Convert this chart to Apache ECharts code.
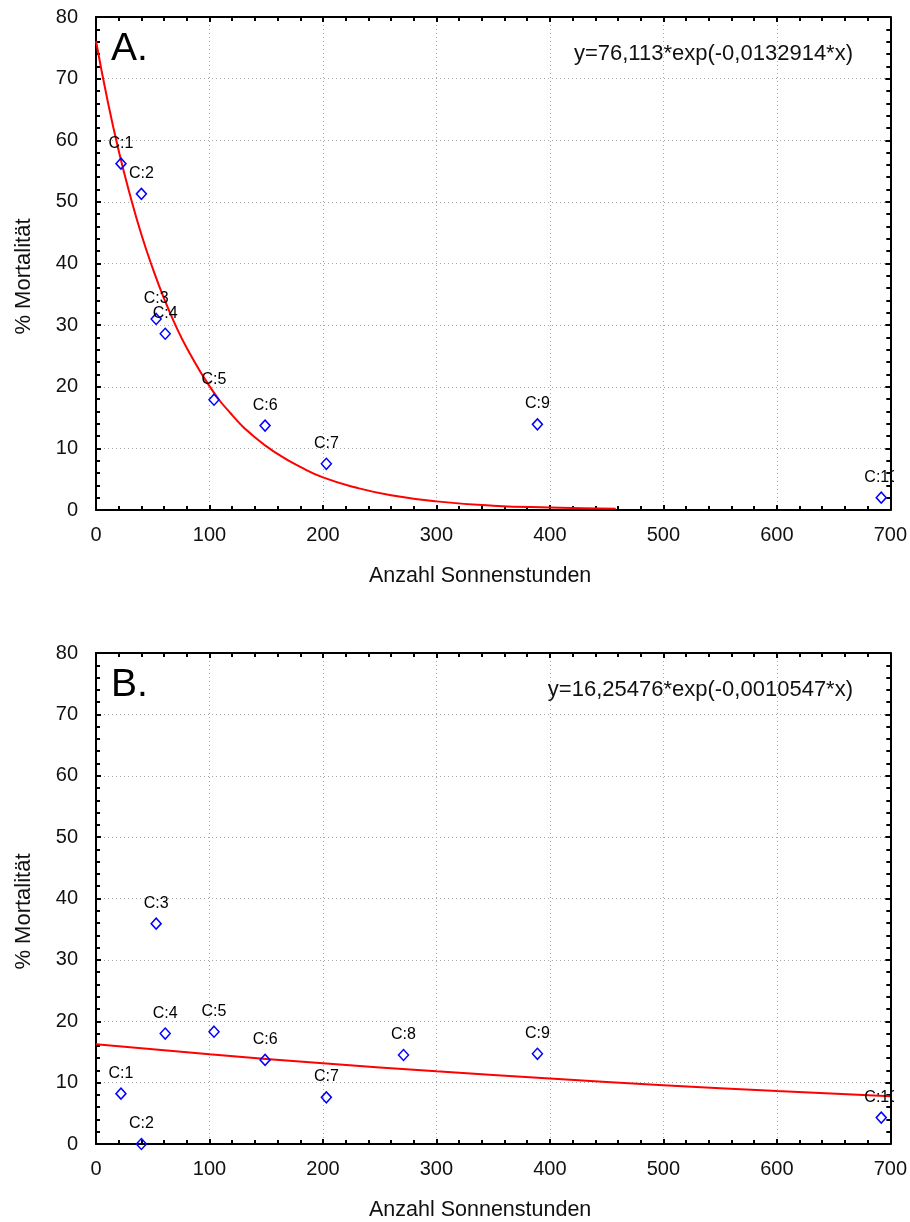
<!DOCTYPE html>
<html>
<head>
<meta charset="utf-8">
<script src="https://cdn.jsdelivr.net/npm/echarts@6/dist/echarts.min.js"></script>
<style>
html,body{margin:0;padding:0;background:#fff;}
#chart{width:910px;height:1222px;}
</style>
</head>
<body>
<div id="chart"></div>
<script>
// ---- data ----
const pointLabels = ['C:1','C:2','C:3','C:4','C:5','C:6','C:7','C:8','C:9','C:10'];
const sunHours = [22, 40, 53, 61, 104, 149, 203, 271, 389, 692];
const mortalityA = [56.2, 51.3, 31.0, 28.6, 17.9, 13.7, 7.5, null, 13.9, 2.0];
const mortalityB = [8.2, 0.0, 35.9, 18.0, 18.3, 13.7, 7.6, 14.5, 14.7, 4.3];
// fitted curves
const fitAx = [0, 10, 20, 30, 40, 50, 60, 70, 80, 100, 120, 140, 160, 180, 200, 230, 260, 300, 350, 400, 458];
const fitAy = [76.1, 66.6, 58.3, 51.1, 44.7, 39.2, 34.3, 30.0, 26.3, 20.1, 15.4, 11.8, 9.1, 7.0, 5.3, 3.6, 2.4, 1.4, 0.7, 0.4, 0.2];
const fitBx = [0, 100, 200, 300, 400, 500, 600, 700];
const fitBy = [16.25, 14.63, 13.16, 11.85, 10.66, 9.59, 8.63, 7.77];
const panelLetters = ['A.', 'B.'];
const equations = ['y=76,113*exp(-0,0132914*x)', 'y=16,25476*exp(-0,0010547*x)'];
const xTitle = 'Anzahl Sonnenstunden';
const yTitle = '% Mortalität';

const FONT = 'Liberation Sans, Arial, sans-serif';
const chart = echarts.init(document.getElementById('chart'));

function pts(xs, ys) {
  const out = [];
  xs.forEach((x, i) => { if (ys[i] != null) out.push({ value: [x, ys[i]], name: pointLabels[i] }); });
  return out;
}
function line(xs, ys) { return xs.map((x, i) => [x, ys[i]]); }

const grids = [
  { left: 96, right: 18, top: 17, height: 493 },
  { left: 96, right: 18, top: 653, height: 492 }
];

const axisLineStyle = { color: '#000', width: 2 };
function xAxes(gi) {
  const base = {
    type: 'value', gridIndex: gi, min: 0, max: 700, interval: 100,
    axisLine: { show: true, onZero: false, lineStyle: axisLineStyle },
    axisTick: { show: true, inside: true, length: 5, lineStyle: { color: '#000', width: 2 } },
    minorTick: { show: true, splitNumber: 5, length: 4, lineStyle: { color: '#000', width: 2 } }
  };
  return [
    Object.assign({}, base, {
      position: 'bottom',
      name: xTitle, nameLocation: 'middle', nameGap: 55,
      nameTextStyle: { fontFamily: FONT, fontSize: 21.5, color: '#111', padding: [0, 26, 0, 0] },
      axisLabel: { show: true, margin: 15, fontFamily: FONT, fontSize: 20, color: '#111' },
      splitLine: { show: true, lineStyle: { type: [1, 3], color: '#a8a8a8', width: 1 } }
    }),
    Object.assign({}, base, {
      position: 'top', axisLabel: { show: false }, splitLine: { show: false }
    })
  ];
}
function yAxes(gi) {
  const base = {
    type: 'value', gridIndex: gi, min: 0, max: 80, interval: 10,
    axisLine: { show: true, onZero: false, lineStyle: axisLineStyle },
    axisTick: { show: true, inside: true, length: 5, lineStyle: { color: '#000', width: 2 } },
    minorTick: { show: true, splitNumber: 5, length: 4, lineStyle: { color: '#000', width: 2 } }
  };
  return [
    Object.assign({}, base, {
      position: 'left',
      name: yTitle, nameLocation: 'middle', nameGap: 61, nameRotate: 90,
      nameTextStyle: { fontFamily: FONT, fontSize: 22, color: '#111', padding: [0, 26, 0, 0] },
      axisLabel: { show: true, margin: 18, fontFamily: FONT, fontSize: 20, color: '#111' },
      splitLine: { show: true, lineStyle: { type: [1, 3], color: '#a8a8a8', width: 1 } }
    }),
    Object.assign({}, base, {
      position: 'right', axisLabel: { show: false }, splitLine: { show: false }
    })
  ];
}

function scatter(gi, ys) {
  return {
    type: 'scatter', xAxisIndex: gi * 2, yAxisIndex: gi * 2,
    data: pts(sunHours, ys),
    symbol: 'diamond', symbolSize: [10, 11],
    itemStyle: { color: 'rgba(0,0,0,0)', borderColor: '#0000ff', borderWidth: 1.5, opacity: 1 },
    label: { show: true, position: 'top', distance: 6, formatter: '{b}',
             fontFamily: FONT, fontSize: 16, color: '#000', opacity: 1 },
    z: 3
  };
}
function fit(gi, xs, ys) {
  return {
    type: 'line', xAxisIndex: gi * 2, yAxisIndex: gi * 2,
    data: line(xs, ys), smooth: true, symbol: 'none',
    lineStyle: { color: '#ff0000', width: 2 }, z: 2
  };
}

const graphics = [];
[0, 1].forEach(gi => {
  const top = grids[gi].top;
  graphics.push({ type: 'text', left: 111, top: top + 13, z: 50,
    style: { text: panelLetters[gi], font: '39px ' + FONT, fill: '#000' } });
  graphics.push({ type: 'text', right: 57, top: top + 26, z: 50,
    style: { text: equations[gi], font: '22px ' + FONT, fill: '#111' } });
  // mask for label overflow beyond the plot frame (as the original clips it)
  graphics.push({ type: 'rect', z: 100, shape: { x: 894, y: top, width: 16, height: grids[gi].height - 2 },
    style: { fill: '#fff' } });
});

chart.setOption({
  animation: false,
  backgroundColor: '#fff',
  grid: grids,
  xAxis: xAxes(0).concat(xAxes(1)),
  yAxis: yAxes(0).concat(yAxes(1)),
  series: [
    fit(0, fitAx, fitAy), scatter(0, mortalityA),
    fit(1, fitBx, fitBy), scatter(1, mortalityB)
  ],
  graphic: graphics
});
</script>
</body>
</html>
